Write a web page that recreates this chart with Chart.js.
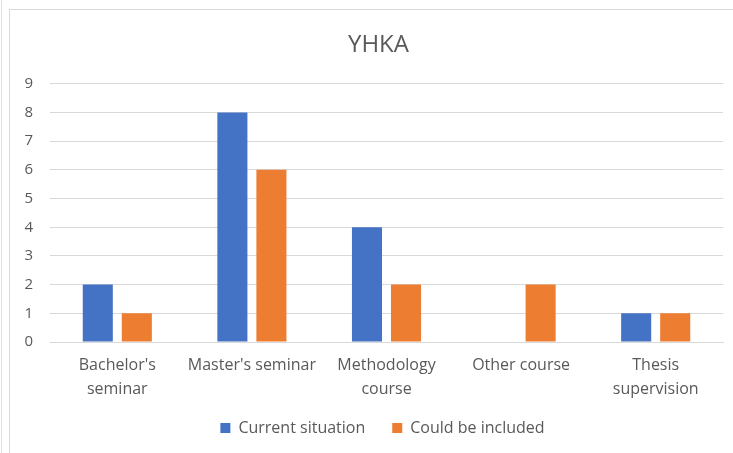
<!DOCTYPE html>
<html>
<head>
<meta charset="utf-8">
<script src="https://cdn.jsdelivr.net/npm/chart.js@4.4.0/dist/chart.umd.min.js"></script>
<style>
  html, body { margin: 0; padding: 0; background: #fff; }
  #wrap { position: relative; width: 733px; height: 453px; overflow: hidden; }
  #outer { position: absolute; left: 1px; top: 0; width: 1px; height: 453px; background: #e3e3e3; }
  #frame { position: absolute; left: 9px; top: 9px; width: 740px; height: 460px; border: 1px solid #d9d9d9; }
  canvas { position: absolute; left: 0; top: 0; }
</style>
</head>
<body>
<div id="wrap">
  <div id="outer"></div>
  <div id="frame"></div>
  <canvas id="chart" width="733" height="453"></canvas>
</div>
<script>
// Data
const categories = [
  ["Bachelor's", 'seminar'],
  "Master's seminar",
  ['Methodology', 'course'],
  'Other course',
  ['Thesis', 'supervision']
];
const currentSituation = [2, 8, 4, null, 1];
const couldBeIncluded = [1, 6, 2, 2, 1];
const yTicks = [0, 1, 2, 3, 4, 5, 6, 7, 8, 9];

const textColor = '#595959';
const fontFamily = "'Open Sans', 'Liberation Sans', sans-serif";

Chart.defaults.font.family = fontFamily;
Chart.defaults.color = textColor;

// shift title and legend a little, the way the original sits off-centre
const nudgeBlocks = {
  id: 'nudgeBlocks',
  afterLayout(chart) {
    const t = chart.titleBlock;
    t.left += 8; t.right += 8;
    const l = chart.legend;
    l.left += 12; l.right += 12;
    l.top -= 9; l.bottom -= 9;
  }
};

new Chart(document.getElementById('chart'), {
  type: 'bar',
  data: {
    labels: categories,
    datasets: [
      {
        label: 'Current situation',
        data: currentSituation,
        backgroundColor: '#4472C4',
        categoryPercentage: 0.58,
        barPercentage: 0.77
      },
      {
        label: 'Could be included',
        data: couldBeIncluded,
        backgroundColor: '#ED7D31',
        categoryPercentage: 0.58,
        barPercentage: 0.77
      }
    ]
  },
  plugins: [nudgeBlocks],
  options: {
    responsive: false,
    animation: false,
    layout: { padding: { left: 18, right: 10, top: 10, bottom: -2 } },
    plugins: {
      title: {
        display: true,
        text: 'YHKA',
        color: textColor,
        font: { size: 24, weight: 'normal' },
        padding: { top: 21, bottom: 24 }
      },
      legend: {
        position: 'bottom',
        labels: {
          boxWidth: 10,
          boxHeight: 10,
          padding: 27,
          color: textColor,
          font: { size: 16 }
        }
      },
      tooltip: { enabled: false }
    },
    scales: {
      y: {
        min: 0,
        max: 9,
        afterFit: function (scale) { scale.width = 32; },
        afterBuildTicks: function (scale) {
          scale.ticks = yTicks.map(function (v) { return { value: v }; });
        },
        grid: { color: '#d9d9d9', drawTicks: false },
        border: { display: false },
        ticks: { padding: 17, font: { size: 15 }, color: textColor }
      },
      x: {
        afterFit: function (scale) { scale.height = 60; },
        grid: { display: false },
        border: { color: '#d9d9d9' },
        ticks: { padding: 3, font: { size: 16, lineHeight: 1.5 }, color: textColor, maxRotation: 0 }
      }
    }
  }
});
</script>
</body>
</html>
